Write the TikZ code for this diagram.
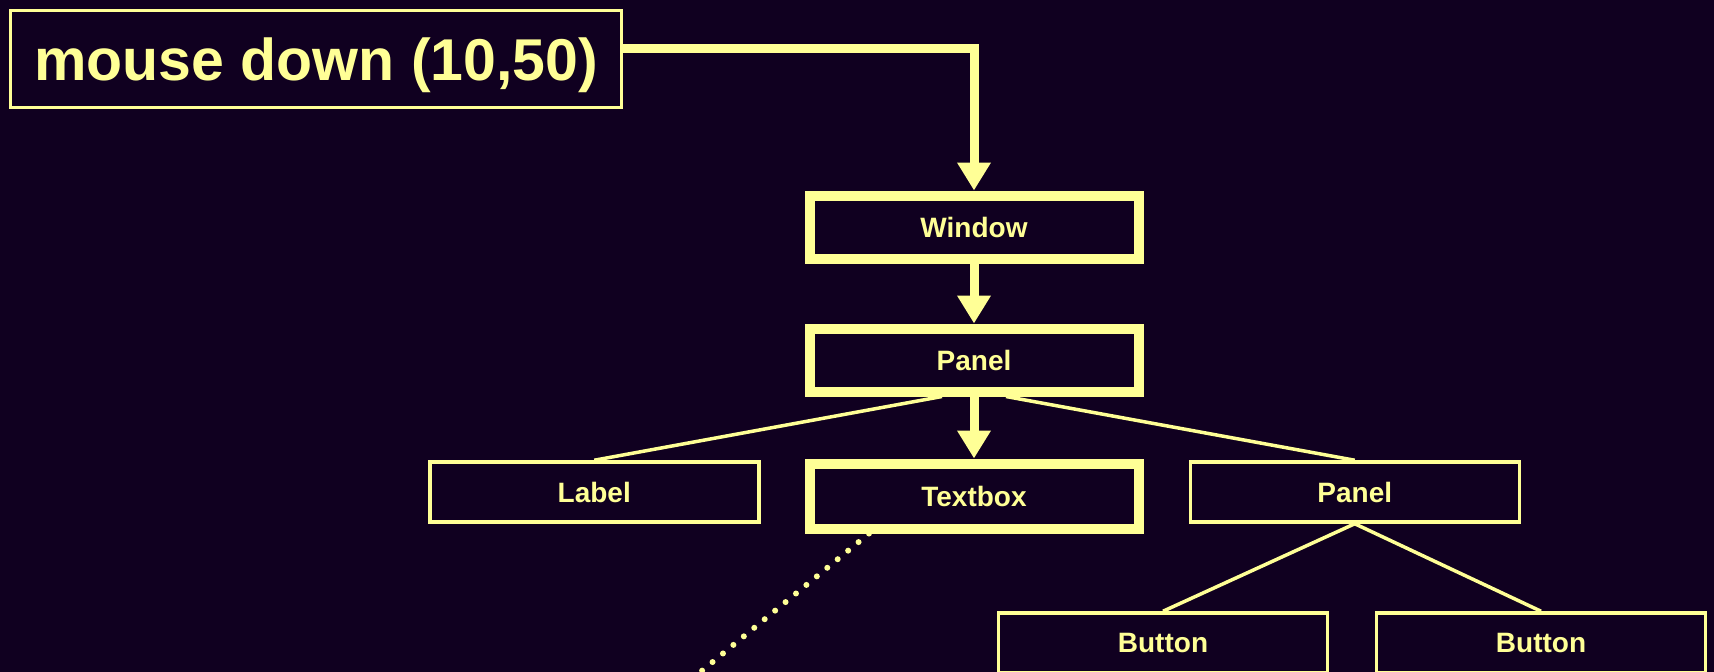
\documentclass[tikz,border=0pt]{standalone}
\usepackage{fontspec}
\setmainfont{Liberation Sans}
\usetikzlibrary{positioning,arrows.meta}
\definecolor{night}{RGB}{16,0,32}
\definecolor{pale}{RGB}{255,255,150}

\begin{document}
\begin{tikzpicture}[x=1pt,y=-1pt,
    thin_box/.style={
        draw=pale,fill=night,line width=3.5pt,minimum width=329pt,minimum height=60pt,
        text=pale,font=\fontsize{28}{32}\selectfont\bfseries,
    },
    thick_box/.style={
        thin_box,line width=10pt,minimum height=63pt,
    },
    flow_arrow/.style={
        -{Triangle[width=32pt,length=28pt]},draw=pale,line width=9pt,
    },
    tree_line/.style={
        draw=pale,line width=3.5pt,
    },
    cursor_dots/.style={
        draw=pale,line width=6pt,line cap=round,dash pattern=on 0pt off 13.5pt,
    }
]
    \useasboundingbox (0,0) rectangle (1714,672);
    \clip (0,0) rectangle (1714,672);
    \fill[night] (0,0) rectangle (1714,672);

    \node[thin_box,minimum width=611pt,minimum height=97pt,text depth=0pt,
        font=\fontsize{59}{68}\selectfont\bfseries] at (316,59) (mouse){mouse down (10,50)};

    \node[thick_box] at (974,227) (window){Window};
    \node[thick_box,below=60pt of window](panel){Panel};
    \node[thick_box,below=62pt of panel,minimum height=65pt](textbox){Textbox};
    \node[thin_box,left=44pt of textbox,yshift=4pt](label){Label};
    \node[thin_box,right=45pt of textbox,yshift=4pt](subpanel){Panel};

    \node[thin_box] at (1163,643) (button1){Button};
    \node[thin_box] at (1541,643) (button2){Button};

    \coordinate (cursor) at (642,720);

    \draw [flow_arrow]([yshift=11pt]mouse.east) -| (window.north);
    \draw [flow_arrow](window.south) to (panel.north);
    \draw [flow_arrow](panel.south) to (textbox.north);

    \draw [tree_line]([xshift=-32pt]panel.south) to (label.north);
    \draw [tree_line]([xshift=32pt]panel.south) to (subpanel.north);
    \draw [tree_line](subpanel.south) to (button1.north);
    \draw [tree_line](subpanel.south) to (button2.north);

    \draw [cursor_dots]([xshift=-105pt]textbox.south) to (cursor);

    \end{tikzpicture}
\end{document}
